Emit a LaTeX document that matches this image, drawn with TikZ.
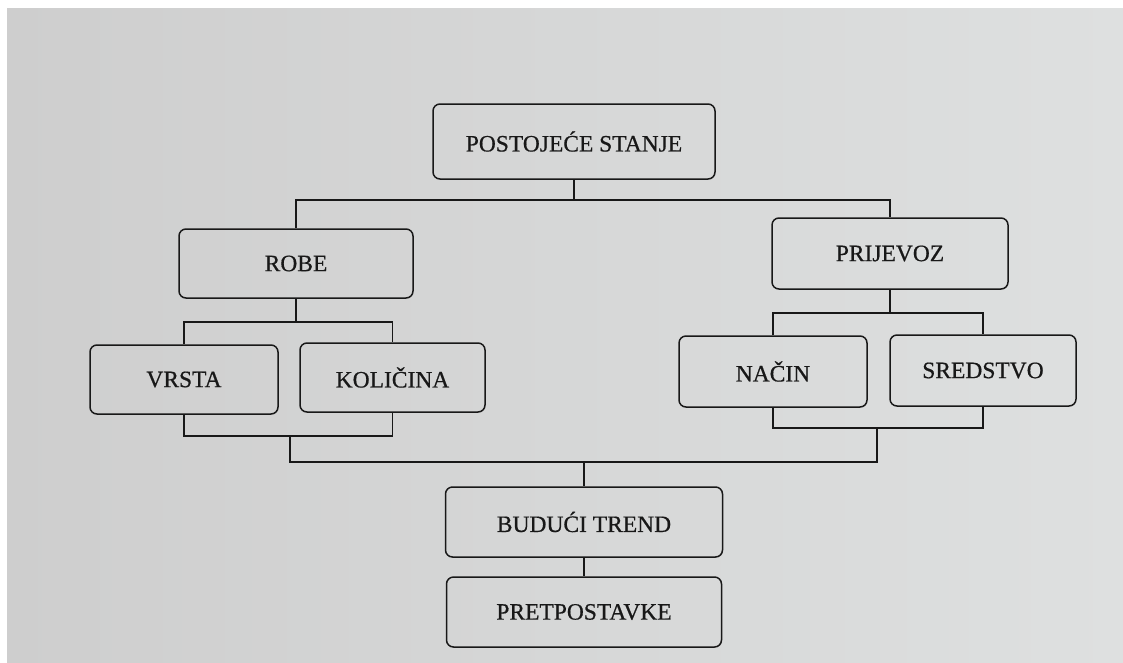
\documentclass[tikz,border=0pt]{standalone}
\usepackage{fontspec}
\setmainfont{Liberation Serif}
\newfontfamily\boxfont[FakeBold=0.6]{Liberation Serif}
\usetikzlibrary{shapes,arrows}

\definecolor{paperL}{RGB}{206,206,206}
\definecolor{paperR}{RGB}{222,224,224}
\definecolor{ink}{RGB}{24,24,24}

\begin{document}
\begin{tikzpicture}[x=1pt, y=-1pt,
		box/.style={draw=ink, line width=1.5pt, rounded corners=7pt, text=ink, inner sep=0pt, font=\boxfont\fontsize{23.5}{28}\selectfont},
		link/.style={draw=ink, line width=1.4pt}]
				\useasboundingbox (0,0) rectangle (1123,662);
				\fill[white] (0,0) rectangle (1123,662);
				\shade[left color=paperL, right color=paperR] (7,8) rectangle (1123,662);
				% boxes
				\node[box, minimum width=282pt, minimum height=75pt] (stanje) at (574,141.5) {POSTOJEĆE STANJE};
				\node[box, minimum width=234pt, minimum height=69pt] (robe) at (296,263.5) {ROBE};
				\node[box, minimum width=236pt, minimum height=71pt] (prijevoz) at (890,253.5) {PRIJEVOZ};
				\node[box, minimum width=188pt, minimum height=69pt] (vrsta) at (184,379.5) {VRSTA};
				\node[box, minimum width=185pt, minimum height=69pt] (kolicina) at (392.5,377.5) {KOLIČINA};
				\node[box, minimum width=188pt, minimum height=71pt] (nacin) at (773,371.5) {NAČIN};
				\node[box, minimum width=186pt, minimum height=71pt] (sredstvo) at (983,370.5) {SREDSTVO};
				\node[box, minimum width=277pt, minimum height=70pt] (trend) at (584,522) {BUDUĆI TREND};
				\node[box, minimum width=275pt, minimum height=70pt] (pretp) at (584,612) {PRETPOSTAVKE};
				% joints
				\coordinate (j1) at (574,200);
				\coordinate (j2) at (296,322);
				\coordinate (j3) at (890,313);
				\coordinate (j4) at (290,436);
				\coordinate (j5) at (877,428);
				\coordinate (j6) at (584,462);
				% connectors
				\draw[link] (stanje.south) -- (j1);
				\draw[link] (robe.north) |- (j1) -| (prijevoz.north);
				\draw[link] (robe.south) -- (j2);
				\draw[link] (vrsta.north) |- (j2) -| (kolicina.north);
				\draw[link] (prijevoz.south) -- (j3);
				\draw[link] (nacin.north) |- (j3) -| (sredstvo.north);
				\draw[link] (vrsta.south) |- (j4) -| (kolicina.south);
				\draw[link] (nacin.south) |- (j5) -| (sredstvo.south);
				\draw[link] (j4) |- (j6) -| (j5);
				\draw[link] (j6) -- (trend.north);
				\draw[link] (trend.south) -- (pretp.north);
			\end{tikzpicture}
\end{document}
